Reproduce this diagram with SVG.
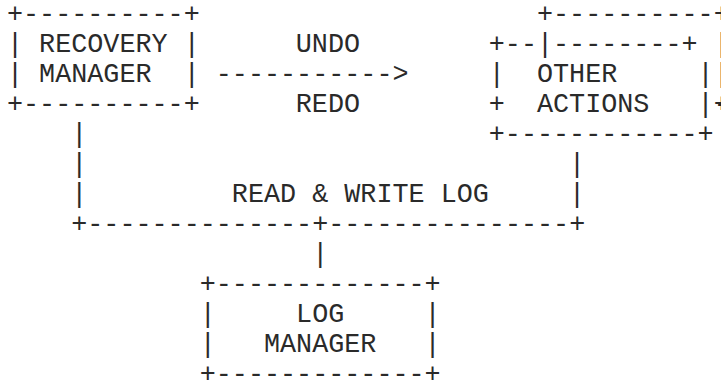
<svg xmlns="http://www.w3.org/2000/svg" width="721" height="383" viewBox="0 0 721 383">
<style>
text{font-family:"Liberation Mono","DejaVu Sans Mono",monospace;font-size:26.77px;fill:#2a2a2a;white-space:pre}
</style>
<rect width="721" height="383" fill="#fff"/>
<g id="recovery-manager">
<text x="7" y="22" xml:space="preserve">+----------+</text>
<text x="7" y="52" xml:space="preserve">| RECOVERY |</text>
<text x="7" y="82" xml:space="preserve">| MANAGER  |</text>
<text x="7" y="112" xml:space="preserve">+----------+</text>
</g>
<g id="other-actions">
<text x="536.98" y="22" xml:space="preserve">+----------</text>
<text x="713.64" y="22">+</text>
<text x="488.8" y="52" xml:space="preserve">+--|--------+</text>
<text x="713.64" y="52">|</text>
<text x="488.8" y="82" xml:space="preserve">|  OTHER     |</text>
<text x="713.64" y="82">|</text>
<text x="488.8" y="112" xml:space="preserve">+  ACTIONS   |-</text>
<text x="713.64" y="112">+</text>
<text x="488.8" y="142" xml:space="preserve">+------------+</text>
</g>
<g id="log-manager">
<text x="199.72" y="292" xml:space="preserve">+-------------+</text>
<text x="199.72" y="322" xml:space="preserve">|     LOG     |</text>
<text x="199.72" y="352" xml:space="preserve">|   MANAGER   |</text>
<text x="199.72" y="382" xml:space="preserve">+-------------+</text>
</g>
<g id="connectors">
<text x="295.8" y="52">UNDO</text>
<text x="215.78" y="82" xml:space="preserve">-----------&gt;</text>
<text x="295.8" y="112">REDO</text>
<text x="71.24" y="142">|</text>
<text x="71.24" y="172">|</text>
<text x="569.1" y="172">|</text>
<text x="71.24" y="202">|</text>
<text x="231.84" y="202" xml:space="preserve">READ &amp; WRITE LOG</text>
<text x="569.1" y="202">|</text>
<text x="71.24" y="232" xml:space="preserve">+--------------+---------------+</text>
<text x="312.14" y="262">|</text>
</g>
</svg>
